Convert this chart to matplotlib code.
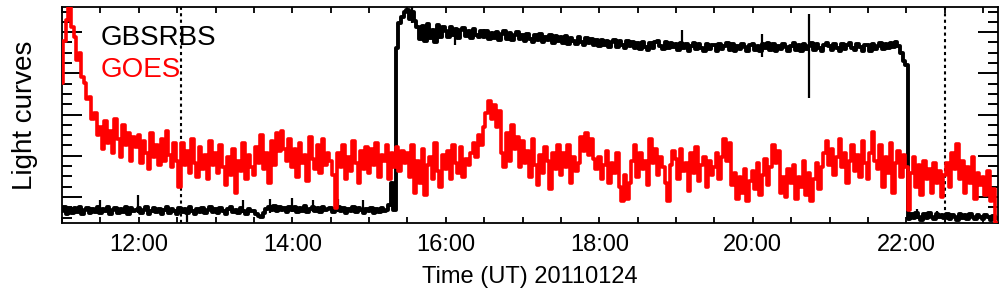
#!/usr/bin/env python3
"""GBSRBS and GOES light curves, 2011-01-24."""

import numpy as np
import matplotlib

matplotlib.use("Agg")
import matplotlib.pyplot as plt
from matplotlib.ticker import FixedLocator, NullFormatter


T_START = 11.0      # hours UT of first sample
CADENCE_MIN = 2.0   # minutes between samples

# GOES curve, arbitrary units (one row per half hour)
goes = [
    140, 182, 203, 215, 196, 186, 163, 170, 146, 140, 124, 126, 104, 110, 88,
    96, 74, 102, 80, 92, 70, 104, 84, 66, 98, 78, 90, 62, 86, 76,
    88, 60, 82, 70, 54, 90, 66, 78, 58, 84, 62, 92, 68, 56, 80,
    62, 36, 80, 58, 72, 50, 84, 60, 46, 76, 54, 68, 44, 82, 58,
    70, 50, 78, 56, 38, 66, 48, 74, 30, 62, 52, 80, 44, 68, 56,
    48, 76, 60, 88, 54, 70, 40, 82, 58, 90, 72, 92, 74, 62, 84,
    56, 74, 46, 80, 60, 68, 42, 86, 64, 54, 78, 50, 84, 58, 70,
    62, 48, 15, 70, 56, 78, 44, 66, 52, 82, 60, 40, 72, 54, 76,
    50, 74, 58, 80, 46, 68, 62, 78, 44, 70, 56, 76, 52, 72, 60,
    70, 46, 78, 30, 62, 40, 74, 28, 58, 66, 44, 80, 52, 36, 68,
    54, 72, 44, 78, 60, 50, 76, 46, 64, 58, 70, 80, 66, 88, 78,
    96, 110, 122, 104, 118, 96, 112, 70, 56, 90, 62, 98, 74, 86, 56,
    82, 60, 72, 46, 84, 58, 38, 68, 50, 76, 62, 34, 70, 54, 78,
    48, 70, 56, 78, 40, 66, 52, 60, 86, 72, 90, 68, 84, 64, 54,
    66, 44, 58, 72, 40, 60, 50, 70, 36, 22, 48, 24, 40, 62, 78,
    46, 70, 54, 62, 38, 84, 60, 74, 48, 66, 56, 40, 22, 58, 72,
    64, 44, 74, 52, 60, 32, 70, 50, 76, 42, 58, 66, 36, 62, 48,
    56, 70, 44, 66, 84, 62, 80, 38, 50, 24, 46, 30, 54, 22, 42,
    52, 34, 60, 28, 48, 64, 38, 56, 78, 60, 72, 30, 46, 26, 54,
    40, 58, 24, 46, 36, 62, 28, 50, 22, 44, 60, 34, 56, 70, 82,
    58, 74, 48, 66, 84, 56, 70, 40, 62, 78, 52, 68, 46, 82, 60,
    44, 70, 91, 62, 54, 78, 36, 66, 50, 80, 30, 60, 72, 46, 68,
    56, 13, 50, 66, 36, 58, 28, 62, 44, 54, 30, 60, 40, 52, 26,
    48, 60, 36, 70, 54, 79, 44, 62, 30, 56, 40, 66, 24, 50, 38,
    46, 28, 52, 22, 34, 0,
]

# GBSRBS curve, same time grid
gbsrbs = [
    12, 16, 9, 14, 10, 15, 11, 16, 9, 13, 15, 10, 14, 11, 16,
    10, 14, 12, 16, 9, 13, 15, 10, 14, 11, 16, 9, 15, 12, 13,
    15, 10, 13, 16, 9, 12, 15, 11, 14, 9, 13, 16, 10, 14, 12,
    9, 15, 11, 14, 10, 16, 12, 9, 14, 11, 15, 10, 13, 16, 11,
    14, 10, 15, 12, 9, 14, 16, 11, 13, 10, 15, 12, 9, 14, 12,
    12, 9, 7, 6, 10, 14, 16, 13, 17, 12, 16, 13, 15, 11, 16,
    13, 16, 11, 15, 12, 17, 11, 14, 16, 12, 15, 11, 16, 13, 14,
    15, 11, 14, 16, 12, 15, 10, 14, 12, 16, 11, 15, 13, 10, 14,
    12, 15, 10, 14, 11, 15, 12, 13, 18, 40, 13, 175, 200, 206, 210,
    212, 204, 210, 202, 196, 184, 197, 182, 199, 185, 193, 181, 198, 186, 196,
    192, 186, 196, 188, 194, 185, 193, 195, 187, 192, 185, 194, 188, 186, 192,
    186, 192, 184, 190, 185, 191, 183, 189, 192, 184, 190, 183, 188, 191, 184,
    188, 182, 189, 184, 181, 188, 183, 189, 181, 186, 183, 188, 180, 187, 182,
    186, 180, 187, 179, 185, 182, 179, 186, 181, 178, 185, 180, 184, 178, 183,
    177, 183, 178, 182, 176, 181, 183, 176, 182, 178, 175, 182, 177, 181, 175,
    180, 174, 181, 176, 173, 180, 175, 181, 182, 177, 174, 181, 175, 180, 176,
    179, 173, 180, 175, 179, 172, 177, 180, 174, 179, 175, 172, 179, 174, 178,
    178, 172, 179, 174, 177, 180, 173, 179, 172, 177, 174, 179, 176, 172, 178,
    179, 173, 177, 172, 179, 175, 180, 173, 179, 172, 177, 174, 179, 176, 172,
    177, 180, 173, 178, 172, 179, 174, 177, 180, 173, 179, 175, 172, 178, 180,
    177, 173, 179, 175, 172, 179, 174, 178, 180, 175, 173, 179, 176, 172, 178,
    178, 172, 179, 174, 177, 180, 174, 179, 175, 180, 176, 181, 177, 170, 162,
    158, 4, 9, 5, 10, 6, 3, 9, 5, 10, 6, 4, 9, 6, 8,
    5, 9, 4, 8, 6, 3, 9, 5, 8, 4, 9, 6, 4, 8, 6,
    4, 8, 6, 3, 7, 5,
]

# short GBSRBS glitches: time (h UT), low and high value
spike_t = [11.50, 11.99, 12.63, 13.36, 13.71, 14.00, 14.27, 14.60, 14.92,
           15.56, 16.12, 19.08, 20.12, 20.73, 22.14, 22.40]
spike_lo = [10, 10, 1, 10, 10, 11, 11, 11, 11, 200, 178, 176, 166, 125, 4, 4]
spike_hi = [23, 28, 14, 23, 24, 25, 23, 24, 23, 215, 192, 193, 189, 209, 14, 12]

event_t = [12.55, 22.50]

hour_ticks = [12, 14, 16, 18, 20, 22]
hour_labels = ["12:00", "14:00", "16:00", "18:00", "20:00", "22:00"]


def main():
    plt.rcParams["font.family"] = ["Liberation Sans", "DejaVu Sans"]

    t = T_START + np.arange(len(goes)) * CADENCE_MIN / 60.0

    fig = plt.figure(figsize=(10.04, 2.96), dpi=100)
    ax = fig.add_axes([0.0618, 0.2466, 0.9323, 0.7298])

    ax.plot(t, gbsrbs, color="black", lw=2.8, drawstyle="steps-mid", zorder=2)
    ax.vlines(spike_t, spike_lo, spike_hi, color="black", lw=1.6, zorder=2)
    ax.plot(t, goes, color="red", lw=2.6, drawstyle="steps-mid", zorder=3)
    for te in event_t:
        ax.axvline(te, color="black", lw=1.5, ls=(0, (1.5, 1.6)), zorder=1)

    ax.set_xlim(11.0, 23.195)
    ax.set_ylim(0, 215.5)

    ax.xaxis.set_major_locator(FixedLocator(hour_ticks))
    ax.set_xticklabels(hour_labels)
    ax.xaxis.set_minor_locator(FixedLocator(np.arange(11.0, 23.3, 0.5)))
    ax.tick_params(axis="x", which="both", direction="in", top=True,
                   length=4.5, width=1.3, labelsize=17, pad=8)

    ymaj = 26 + 41.1 * np.arange(5)
    ymin = 26 + 10.275 * np.arange(-2, 19)
    ax.yaxis.set_major_locator(FixedLocator(ymaj))
    ax.yaxis.set_minor_locator(FixedLocator(ymin))
    ax.yaxis.set_major_formatter(NullFormatter())
    ax.tick_params(axis="y", which="major", direction="in", right=True,
                   length=14.5, width=1.4)
    ax.tick_params(axis="y", which="minor", direction="in", right=True,
                   length=7.2, width=1.4)
    for sp in ax.spines.values():
        sp.set_linewidth(1.3)

    ax.set_xlabel("Time (UT) 20110124", fontsize=17, labelpad=7)
    ax.set_ylabel("Light curves", fontsize=20, labelpad=14)

    ax.text(0.041, 0.915, "GBSRBS", color="black", fontsize=20,
            transform=ax.transAxes, va="top", ha="left")
    ax.text(0.041, 0.77, "GOES", color="red", fontsize=20,
            transform=ax.transAxes, va="top", ha="left")

    fig.savefig("out.png", dpi=100)
    plt.close(fig)


if __name__ == "__main__":
    main()
